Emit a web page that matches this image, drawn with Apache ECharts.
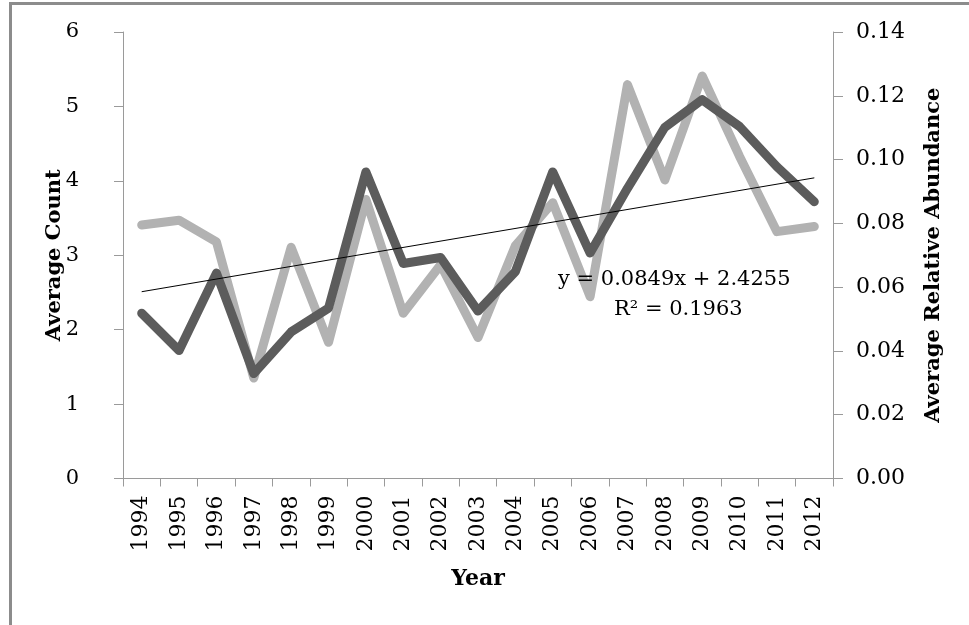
<!DOCTYPE html>
<html>
<head>
<meta charset="utf-8">
<script src="https://cdn.jsdelivr.net/npm/echarts@6/dist/echarts.min.js"></script>
<style>
  html, body { margin: 0; padding: 0; background: #fff; }
  #wrap { position: relative; width: 969px; height: 625px; overflow: hidden; }
  #chart { position: absolute; left: 0; top: 0; width: 969px; height: 625px; }
  #frame { position: absolute; left: 9px; top: 2px; width: 970px; height: 640px;
           border-left: 3px solid #8c8c8c; border-top: 3px solid #8c8c8c; pointer-events: none; }
</style>
</head>
<body>
<div id="wrap">
  <div id="chart"></div>
  <div id="frame"></div>
</div>
<script>
const years = ['1994','1995','1996','1997','1998','1999','2000','2001','2002','2003',
               '2004','2005','2006','2007','2008','2009','2010','2011','2012'];
// Average count (left axis, dark line)
const averageCount = [2.22, 1.72, 2.76, 1.41, 1.97, 2.29, 4.12, 2.89, 2.97, 2.25,
                      2.78, 4.12, 3.03, 3.90, 4.72, 5.09, 4.73, 4.19, 3.72];
// Average relative abundance (right axis, light line)
const relAbundance = [0.0795, 0.0810, 0.0742, 0.0315, 0.0725, 0.0427, 0.0875, 0.0518, 0.0670, 0.0442,
                      0.0730, 0.0865, 0.0570, 0.1235, 0.0936, 0.1262, 0.1010, 0.0774, 0.0790];
// Linear trendline end points, intermediate points omitted
const trendline = [2.51, null, null, null, null, null, null, null, null, null,
                   null, null, null, null, null, null, null, null, 4.04];
const leftTicks = [0, 6, 1];
const rightTicks = [0, 0.14, 0.02];
const equationText = 'y = 0.0849x + 2.4255';
const r2Text = 'R² = 0.1963';

const FONT = 'DejaVu Serif';
const axisGray = '#9a9a9a';

const chart = echarts.init(document.getElementById('chart'), null, { renderer: 'canvas' });
chart.setOption({
  backgroundColor: '#ffffff',
  animation: false,
  grid: { left: 123, right: 136, top: 32, bottom: 146.5, containLabel: false },
  xAxis: {
    type: 'category',
    data: years,
    boundaryGap: true,
    name: 'Year',
    nameLocation: 'middle',
    nameGap: 90,
    nameTextStyle: { fontFamily: FONT, fontWeight: 'bold', fontSize: 22, color: '#000' },
    axisLine: { show: true, lineStyle: { color: axisGray, width: 1 } },
    axisTick: { show: true, interval: 0, alignWithLabel: false, length: 8, lineStyle: { color: axisGray } },
    axisLabel: { interval: 0, rotate: 90, margin: 17, fontFamily: FONT, fontSize: 22, color: '#000' },
    splitLine: { show: false }
  },
  yAxis: [
    {
      type: 'value',
      min: leftTicks[0], max: leftTicks[1], interval: leftTicks[2],
      position: 'left',
      name: 'Average Count',
      nameLocation: 'middle',
      nameRotate: 90,
      nameGap: 58,
      nameMoveOverlap: false,
      nameTextStyle: { fontFamily: FONT, fontWeight: 'bold', fontSize: 21, color: '#000' },
      axisLine: { show: true, lineStyle: { color: axisGray, width: 1 } },
      axisTick: { show: true, inside: false, length: 9, lineStyle: { color: axisGray } },
      axisLabel: { margin: 44, fontFamily: FONT, fontSize: 21, color: '#000' },
      splitLine: { show: false }
    },
    {
      type: 'value',
      min: rightTicks[0], max: rightTicks[1], interval: rightTicks[2],
      position: 'right',
      name: 'Average Relative Abundance',
      nameLocation: 'middle',
      nameRotate: 90,
      nameGap: 90,
      nameTextStyle: { fontFamily: FONT, fontWeight: 'bold', fontSize: 21, color: '#000' },
      axisLine: { show: true, lineStyle: { color: axisGray, width: 1 } },
      axisTick: { show: true, inside: false, length: 10, lineStyle: { color: axisGray } },
      axisLabel: { margin: 23, fontFamily: FONT, fontSize: 22, color: '#000',
                   formatter: v => v.toFixed(2) },
      splitLine: { show: false }
    }
  ],
  series: [
    {
      name: 'Average Relative Abundance', type: 'line', yAxisIndex: 1, data: relAbundance,
      symbol: 'none', smooth: false,
      lineStyle: { color: '#b2b2b2', width: 9, cap: 'round', join: 'round' }, z: 2
    },
    {
      name: 'Average Count', type: 'line', yAxisIndex: 0, data: averageCount,
      symbol: 'none', smooth: false,
      lineStyle: { color: '#5c5c5c', width: 9, cap: 'round', join: 'round' }, z: 3
    },
    {
      name: 'Linear (Average Count)', type: 'line', yAxisIndex: 0, data: trendline,
      connectNulls: true, symbol: 'none',
      lineStyle: { color: '#000', width: 1 }, z: 4
    }
  ],
  graphic: [
    { type: 'text', left: 558, top: 269, z: 10,
      style: { text: equationText, font: '21px "DejaVu Serif"', fill: '#000' } },
    { type: 'text', left: 614, top: 299, z: 10,
      style: { text: r2Text, font: '21px "DejaVu Serif"', fill: '#000' } }
  ]
});
</script>
</body>
</html>
